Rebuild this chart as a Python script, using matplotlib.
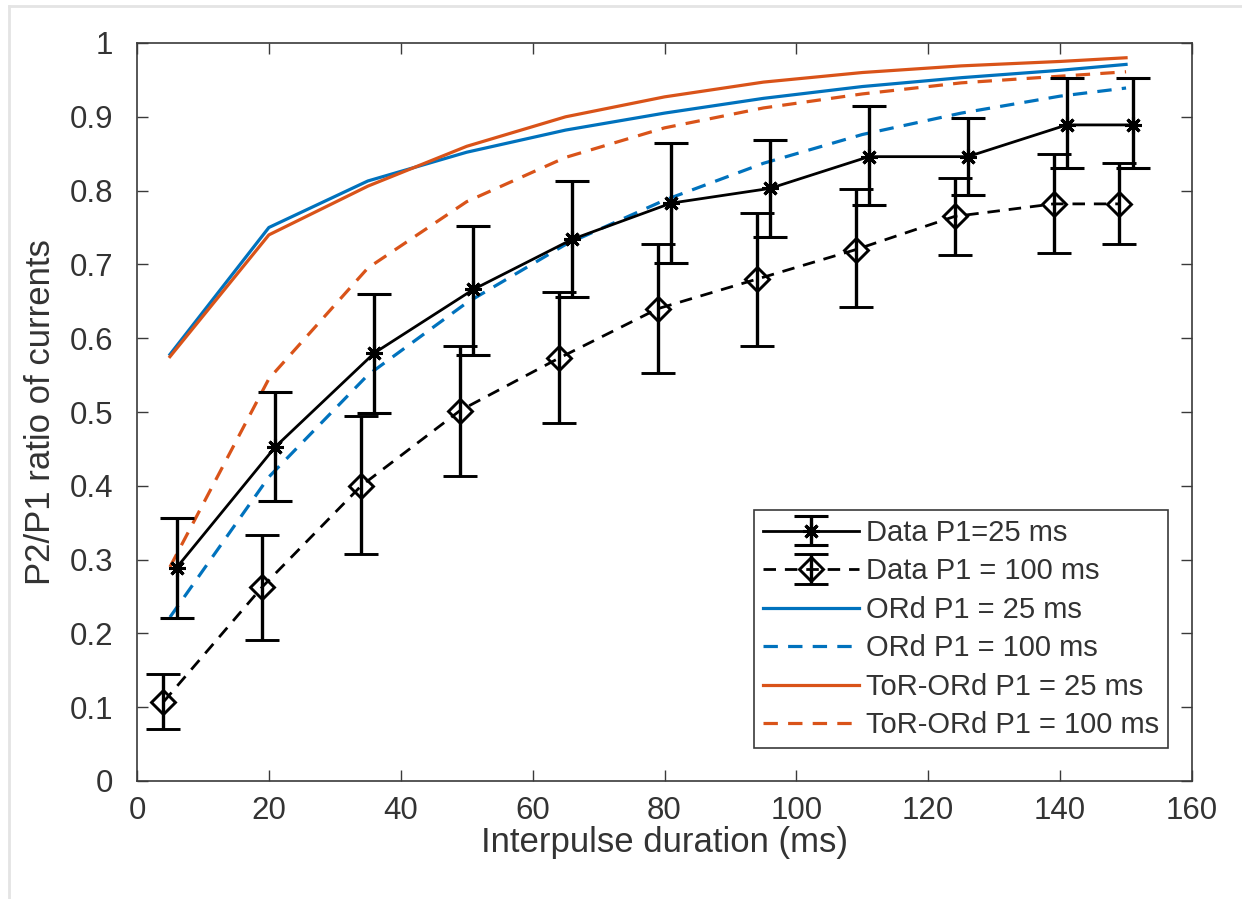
import matplotlib
matplotlib.use("Agg")
import matplotlib.pyplot as plt
from matplotlib.lines import Line2D

plt.rcParams['font.family'] = ['Liberation Sans', 'DejaVu Sans']

# ---- data ----
x_model = [5, 20, 35, 50, 65, 80, 95, 110, 125, 140, 150]
x_data25 = [6, 21, 36, 51, 66, 81, 96, 111, 126, 141, 151]
x_data100 = [4, 19, 34, 49, 64, 79, 94, 109, 124, 139, 149]

data25 = [0.289, 0.453, 0.580, 0.666, 0.734, 0.783, 0.803, 0.846, 0.846, 0.889, 0.889]
data25_hi = [0.356, 0.527, 0.660, 0.752, 0.813, 0.865, 0.869, 0.915, 0.898, 0.952, 0.952]
data25_lo = [0.221, 0.379, 0.499, 0.577, 0.656, 0.702, 0.737, 0.780, 0.794, 0.830, 0.830]

data100 = [0.107, 0.263, 0.400, 0.502, 0.573, 0.640, 0.680, 0.720, 0.765, 0.782, 0.782]
data100_hi = [0.145, 0.334, 0.494, 0.590, 0.663, 0.727, 0.770, 0.802, 0.817, 0.849, 0.838]
data100_lo = [0.071, 0.191, 0.307, 0.413, 0.485, 0.553, 0.590, 0.642, 0.713, 0.715, 0.727]

ord25 = [0.578, 0.750, 0.813, 0.852, 0.882, 0.905, 0.925, 0.941, 0.953, 0.963, 0.971]
ord100 = [0.222, 0.412, 0.550, 0.648, 0.727, 0.787, 0.837, 0.876, 0.905, 0.928, 0.939]
tor25 = [0.575, 0.740, 0.806, 0.860, 0.900, 0.927, 0.947, 0.960, 0.969, 0.975, 0.980]
tor100 = [0.290, 0.545, 0.695, 0.785, 0.845, 0.885, 0.912, 0.931, 0.946, 0.955, 0.961]

labels = ["Data P1=25 ms", "Data P1 = 100 ms", "ORd P1 = 25 ms",
          "ORd P1 = 100 ms", "ToR-ORd P1 = 25 ms", "ToR-ORd P1 = 100 ms"]
xticks = [0, 20, 40, 60, 80, 100, 120, 140, 160]
yticks = [0, 0.1, 0.2, 0.3, 0.4, 0.5, 0.6, 0.7, 0.8, 0.9, 1]
ytick_labels = ["0", "0.1", "0.2", "0.3", "0.4", "0.5", "0.6", "0.7", "0.8", "0.9", "1"]

BLUE = "#0072BD"
ORANGE = "#D95319"
AXC = "#3a3a3a"
TXT = "#333333"

fig = plt.figure(figsize=(12.42, 8.99), dpi=100)
W, H = 1242, 899
ax = fig.add_axes([137 / W, 1 - 781 / H, (1192 - 137) / W, (781 - 43) / H])

# faint screenshot border
fig.add_artist(Line2D([9 / W, 1], [1 - 6 / H, 1 - 6 / H], transform=fig.transFigure,
                      color="#e4e4e4", lw=2))
fig.add_artist(Line2D([9 / W, 9 / W], [0, 1 - 6 / H], transform=fig.transFigure,
                      color="#e4e4e4", lw=2))

err25 = [[v - l for v, l in zip(data25, data25_lo)], [h - v for v, h in zip(data25, data25_hi)]]
err100 = [[v - l for v, l in zip(data100, data100_lo)], [h - v for v, h in zip(data100, data100_hi)]]

e1 = ax.errorbar(x_data25, data25, yerr=err25, color="black", lw=2.0, ls="-",
                 marker=(8, 2, 0), ms=12, mew=2.2, elinewidth=2.4, capsize=12, capthick=2.4,
                 label=labels[0], zorder=5)
e2 = ax.errorbar(x_data100, data100, yerr=err100, color="black", lw=2.0, ls=(0, (4.5, 3.2)),
                 marker="D", ms=12.5, mfc="none", mew=2.1, elinewidth=2.4, capsize=12,
                 capthick=2.4, label=labels[1], zorder=5)
l3, = ax.plot(x_model, ord25, color=BLUE, lw=2.3, label=labels[2])
l4, = ax.plot(x_model, ord100, color=BLUE, lw=2.3, ls=(0, (4.5, 3.2)), label=labels[3])
l5, = ax.plot(x_model, tor25, color=ORANGE, lw=2.3, label=labels[4])
l6, = ax.plot(x_model, tor100, color=ORANGE, lw=2.3, ls=(0, (4.5, 3.2)), label=labels[5])

ax.set_xlim(0, 160)
ax.set_ylim(0, 1)
ax.set_xticks(xticks)
ax.set_yticks(yticks)
ax.set_yticklabels(ytick_labels)
ax.tick_params(direction="in", top=True, right=True, length=8, width=1,
               colors=AXC, labelsize=22.5, labelcolor=TXT)
ax.tick_params(axis="y", pad=17)
ax.tick_params(axis="x", pad=11)
for s in ax.spines.values():
    s.set_color(AXC)
    s.set_linewidth(1.2)

ax.set_xlabel("Interpulse duration (ms)", fontsize=25, color=TXT, labelpad=0)
ax.set_ylabel("P2/P1 ratio of currents", fontsize=25, color=TXT, labelpad=9)

leg = ax.legend(handles=[e1, e2, l3, l4, l5, l6], labels=labels, loc="lower right",
                bbox_to_anchor=((1168 - 137) / 1055, (781 - 748) / 738),
                borderaxespad=0, fontsize=21, frameon=True, fancybox=False,
                framealpha=1, edgecolor=AXC, handlelength=3.3, handletextpad=0.25,
                labelspacing=0.36, borderpad=0.3)
leg.get_frame().set_linewidth(1.2)
for t in leg.get_texts():
    t.set_color(TXT)

fig.savefig("out.png", dpi=100, facecolor="white")
